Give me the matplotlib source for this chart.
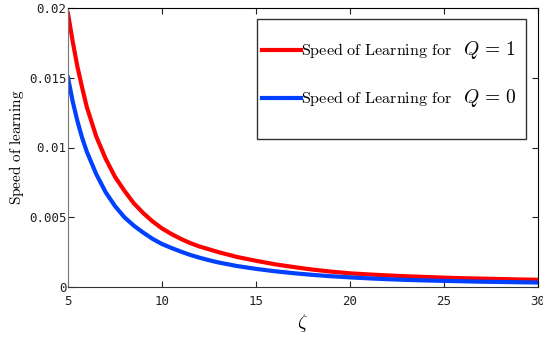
import matplotlib
matplotlib.use("Agg")
import matplotlib.pyplot as plt
from matplotlib.patches import Rectangle
from matplotlib.lines import Line2D

plt.rcParams["mathtext.fontset"] = "cm"

# values
zeta = [5, 5.25, 5.5, 5.75, 6, 6.5, 7, 7.5, 8, 8.5, 9, 9.5, 10, 10.5, 11,
        11.5, 12, 12.5, 13, 14, 15, 16, 17, 18, 19, 20, 21, 22, 23, 24, 25,
        26, 27, 28, 29, 30]
speed_q1 = [0.0196, 0.0176, 0.0158, 0.0143, 0.0129, 0.0108, 0.0092, 0.0079,
            0.0069, 0.0060, 0.0053, 0.0047, 0.0042, 0.0038, 0.00345,
            0.00315, 0.0029, 0.0027, 0.0025, 0.00215, 0.00188, 0.00163,
            0.00143, 0.00125, 0.00110, 0.00098, 0.00090, 0.00083, 0.00077,
            0.00072, 0.00067, 0.00063, 0.00060, 0.00057, 0.00054, 0.00052]
speed_q0 = [0.0150, 0.0133, 0.0119, 0.0107, 0.0097, 0.0081, 0.0068, 0.0058,
            0.0050, 0.0044, 0.0039, 0.00345, 0.00308, 0.0028, 0.00254,
            0.0023, 0.0021, 0.00192, 0.00176, 0.0015, 0.0013, 0.00113,
            0.00099, 0.00087, 0.00077, 0.00069, 0.00062, 0.00056, 0.00051,
            0.00047, 0.00044, 0.00041, 0.00038, 0.00036, 0.00034, 0.00032]
label_q1 = "Speed of Learning for"
label_q0 = "Speed of Learning for"
xticks = [5, 10, 15, 20, 25, 30]
yticks = [0, 0.005, 0.01, 0.015, 0.02]
ytick_labels = ["0", "0.005", "0.01", "0.015", "0.02"]

red = "#ff0000"
blue = "#0040ff"

fig = plt.figure(figsize=(5.43, 3.37), dpi=100)
ax = fig.add_axes([68 / 543, 1 - 287 / 337, 470 / 543, 279 / 337])

ax.plot(zeta, speed_q1, color=red, lw=3, solid_joinstyle="round")
ax.plot(zeta, speed_q0, color=blue, lw=3, solid_joinstyle="round")

ax.set_xlim(5, 30)
ax.set_ylim(0, 0.02)
ax.set_xticks(xticks)
ax.set_yticks(yticks)
ax.set_yticklabels(ytick_labels)
ax.tick_params(direction="in", top=True, right=True, length=4, width=0.8,
               labelsize=9, colors="#222222")
ax.tick_params(axis="y", pad=1)
ax.tick_params(axis="x", pad=6)
for lbl in ax.get_xticklabels() + ax.get_yticklabels():
    lbl.set_family("DejaVu Sans Mono")
ax.spines["left"].set_color("#777777")
ax.spines["bottom"].set_color("#333333")
ax.spines["top"].set_color("black")
ax.spines["right"].set_color("black")

ax.set_xlabel(r"$\zeta$", fontsize=14, labelpad=3)
ax.set_ylabel(r"$\mathrm{Speed\ of\ learning}$", fontsize=11, labelpad=2)

# legend drawn by hand, in figure pixel positions
def fx(px):
    return px / 543

def fy(py):
    return 1 - py / 337

fig.patches.append(Rectangle((fx(257), fy(139)), fx(526) - fx(257), fy(19) - fy(139),
                             transform=fig.transFigure, facecolor="white",
                             edgecolor="#333333", lw=1, zorder=5))
for y, c, lab, q in [(50, red, label_q1, "1"), (98, blue, label_q0, "0")]:
    fig.add_artist(Line2D([fx(262), fx(301)], [fy(y), fy(y)], color=c, lw=3,
                          transform=fig.transFigure, zorder=6))
    fig.text(fx(301), fy(y), r"$\mathrm{" + lab.replace(" ", r"\ ") + "}$",
             fontsize=11.6, va="center", ha="left", zorder=6)
    fig.text(fx(463), fy(y), r"$Q\,=\,\mathbf{" + q + "}$", fontsize=14,
             va="center", ha="left", zorder=6)

fig.savefig("out.png", dpi=100)
